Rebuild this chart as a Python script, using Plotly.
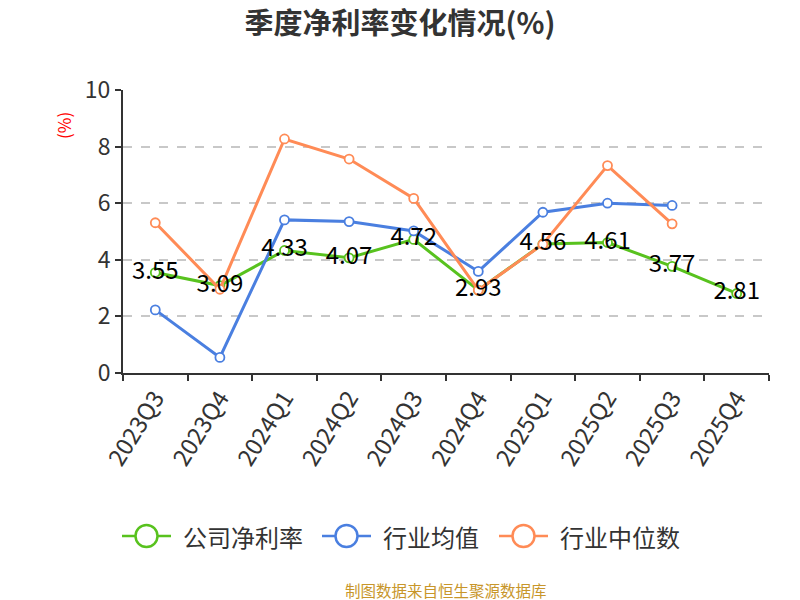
import plotly.graph_objects as go

categories = ["2023Q3", "2023Q4", "2024Q1", "2024Q2", "2024Q3", "2024Q4", "2025Q1", "2025Q2", "2025Q3", "2025Q4"]
company = [3.55, 3.09, 4.33, 4.07, 4.72, 2.93, 4.56, 4.61, 3.77, 2.81]
industry_mean = [2.23, 0.55, 5.41, 5.35, 5.02, 3.59, 5.68, 6.0, 5.92, None]
industry_median = [5.31, 2.96, 8.27, 7.56, 6.17, 2.93, 4.55, 7.33, 5.27, None]
series_names = ["公司净利率", "行业均值", "行业中位数"]
tick_vals = [0, 2, 4, 6, 8, 10]

GREEN = "#58c21e"
BLUE = "#4a7fe0"
ORANGE = "#ff8b56"
COLORS = [GREEN, BLUE, ORANGE]
FONT = "Noto Sans CJK SC, Noto Sans, sans-serif"

# plot area in pixels
L, R, T, B = 123, 31, 90, 227
W, H = 800, 600
PW, PH = W - L - R, H - T - B

def px_x(px):
    return (px - L) / PW

def px_y(py):
    return (H - B - py) / PH

fig = go.Figure()

for name, y, color in zip(series_names, [company, industry_mean, industry_median], COLORS):
    fig.add_trace(go.Scatter(
        x=categories, y=y, name=name, mode="lines+markers",
        line=dict(color=color, width=3),
        marker=dict(size=9, color="white", line=dict(color=color, width=1.8)),
        connectgaps=False, showlegend=False,
    ))

fig.add_trace(go.Scatter(
    x=categories, y=company, mode="text", showlegend=False,
    text=[f"{v:.2f}" for v in company], textposition="middle center",
    textfont=dict(size=24, color="#000000", family=FONT), hoverinfo="skip",
))

# custom legend (line + big open circle + text)
legend_starts = [122, 322, 499]
legend_y = 536
shapes = []
annotations = []
for start, name, color in zip(legend_starts, series_names, COLORS):
    shapes.append(dict(type="line", xref="paper", yref="paper",
                       x0=px_x(start), x1=px_x(start + 49), y0=px_y(legend_y), y1=px_y(legend_y),
                       line=dict(color=color, width=2.5)))
    shapes.append(dict(type="circle", xref="paper", yref="paper",
                       xsizemode="pixel", ysizemode="pixel",
                       xanchor=px_x(start + 24.5), yanchor=px_y(legend_y),
                       x0=-11, x1=11, y0=-11, y1=11,
                       fillcolor="white", line=dict(color=color, width=2.5)))
    annotations.append(dict(text=name, xref="paper", yref="paper",
                            x=px_x(start + 59), y=px_y(legend_y), xanchor="left", yanchor="middle",
                            showarrow=False, font=dict(size=24, color="#333333", family=FONT)))

annotations += [
    dict(text="(%)", xref="paper", yref="paper", x=px_x(63.5), y=px_y(125.5), textangle=-90,
         xanchor="center", yanchor="middle",
         showarrow=False, font=dict(size=17, color="#ff0000", family=FONT)),
    dict(text="制图数据来自恒生聚源数据库", xref="paper", yref="paper", x=0.5, y=px_y(590),
         xanchor="center", yanchor="middle", showarrow=False,
         font=dict(size=15.5, color="#c8962a", family=FONT)),
]

fig.update_layout(
    width=W, height=H,
    margin=dict(l=L, r=R, t=T, b=B),
    plot_bgcolor="white", paper_bgcolor="white",
    font=dict(family=FONT, color="#333333"),
    title=dict(text="<b>季度净利率变化情况(%)</b>", x=0.5, xanchor="center", y=1 - 24 / H, yanchor="middle",
               font=dict(size=29, color="#333333", family=FONT)),
    showlegend=False,
    xaxis=dict(
        type="category", range=[-0.5, 9.5], tickangle=-58,
        tickson="boundaries", ticks="outside", ticklen=6, tickcolor="#333333", tickwidth=2,
        showline=True, linecolor="#333333", linewidth=2,
        showgrid=False, tickfont=dict(size=23.5, color="#333333", family=FONT),
    ),
    yaxis=dict(
        range=[0, 10], tickvals=tick_vals, ticks="outside", ticklen=6,
        tickcolor="#333333", tickwidth=2,
        showline=True, linecolor="#333333", linewidth=2,
        showgrid=True, gridcolor="#c8c8c8", griddash="dash", gridwidth=1.5,
        zeroline=False, tickfont=dict(size=23, color="#333333", family=FONT),
    ),
    shapes=shapes,
    annotations=annotations,
)

fig.write_html("out.html")
